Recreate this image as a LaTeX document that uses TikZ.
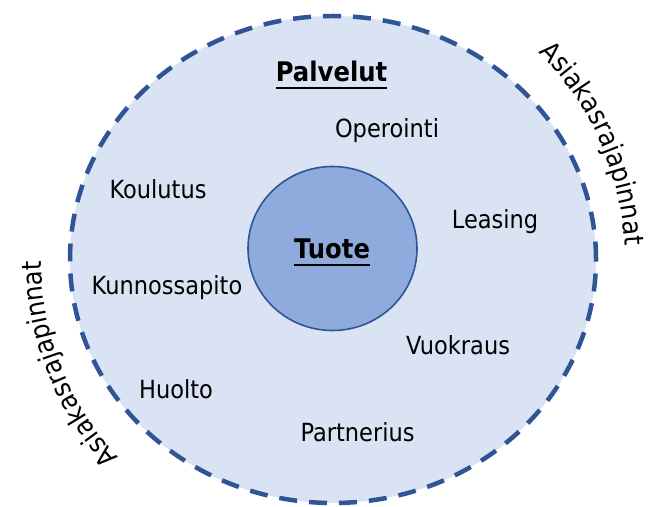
\documentclass[tikz,border=0pt]{standalone}
\usepackage{fontspec}
\setmainfont{DejaVu Sans}[FakeStretch=0.9]
\usetikzlibrary{calc,decorations.text}

\definecolor{ringfill}{HTML}{DAE3F3}
\definecolor{ringline}{HTML}{2F5597}
\definecolor{corefill}{HTML}{8FAADC}

\newcommand\itemfont{\fontsize{25}{30}\selectfont}
\newcommand\rimfont{\fontsize{27}{32}\selectfont}
\newcommand\headfont{\fontsize{27}{32}\selectfont\bfseries}

\begin{document}
\begin{tikzpicture}[x=1pt,y=1pt,
  service/.style={inner sep=0pt, anchor=base, font=\itemfont},
  heading/.style={inner sep=0pt, anchor=base, font=\headfont},
  headrule/.style={line width=2pt, line cap=butt},
  arclabel/.style={decorate, decoration={text along path, text align=center,
      text={|\rimfont|Asiakasrajapinnat}}}]
\useasboundingbox (0,0) rectangle (652,506);

\coordinate (c) at (333,246.5);
\coordinate (k) at (332.5,257.5);

% outer service ring
\draw[ringline, fill=ringfill, line width=4.5pt, dash pattern=on 18pt off 12pt]
  (c) ellipse [x radius=263, y radius=243.5];

% product core
\draw[ringline, fill=corefill, line width=1.6pt]
  (k) ellipse [x radius=84.5, y radius=82];

% headings
\node[heading] (pal) at (331.5,424) {Palvelut};
\draw[headrule] ([yshift=-6.5pt]pal.base west) -- ([yshift=-6.5pt]pal.base east);
\node[heading] (tuo) at (332,247.5) {Tuote};
\draw[headrule] ([yshift=-6.5pt]tuo.base west) -- ([yshift=-6.5pt]tuo.base east);

% services
\node[service] (ope) at (387,368) {Operointi};
\node[service] (kou) at (158,307) {Koulutus};
\node[service] (lea) at (495,277) {Leasing};
\node[service] (kun) at (167,211) {Kunnossapito};
\node[service] (vuo) at (458,152) {Vuokraus};
\node[service] (huo) at (176,108) {Huolto};
\node[service] (par) at (357.5,65) {Partnerius};

% customer interface labels along the rim
\path[arclabel] ($(c)+(59:292)$) arc[start angle=59, end angle=-11, radius=292];
\path[arclabel] ($(c)+(236.5:292)$) arc[start angle=236.5, end angle=166.5, radius=292];
\end{tikzpicture}
\end{document}
